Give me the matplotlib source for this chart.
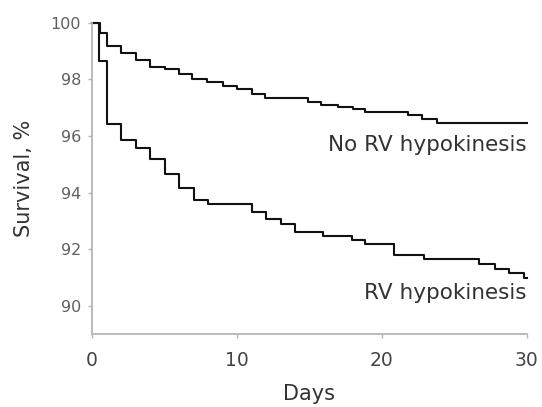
import matplotlib
matplotlib.use("Agg")
import matplotlib.pyplot as plt

# Kaplan-Meier step data (day of step, survival % after step)
no_rv_days = [0, 0.55, 1.0, 2.0, 3.0, 4.0, 5.0, 6.0, 6.9, 7.9, 9.0, 10.0, 11.0, 11.9,
              14.9, 15.8, 16.95, 18.0, 18.8, 21.8, 22.8, 23.8, 30]
no_rv_surv = [100, 99.65, 99.17, 98.94, 98.70, 98.45, 98.35, 98.20, 98.00, 97.90, 97.78,
              97.67, 97.50, 97.33, 97.19, 97.08, 97.02, 96.94, 96.86, 96.76, 96.61,
              96.47, 96.47]

rv_days = [0, 0.5, 1.0, 2.0, 3.0, 4.0, 5.0, 6.0, 7.0, 8.0, 11.0, 12.0, 13.0, 14.0,
           15.9, 17.9, 18.8, 20.8, 22.9, 26.7, 27.8, 28.8, 29.8, 30]
rv_surv = [100, 98.64, 96.41, 95.85, 95.59, 95.18, 94.65, 94.16, 93.73, 93.61, 93.33,
           93.06, 92.90, 92.61, 92.45, 92.31, 92.17, 91.81, 91.66, 91.48, 91.31, 91.17,
           91.00, 91.00]

x_ticks = [0, 10, 20, 30]
y_ticks = [90, 92, 94, 96, 98, 100]
labels = ["No RV hypokinesis", "RV hypokinesis"]

fig = plt.figure(figsize=(5.42, 4.07), dpi=100)
ax = fig.add_axes([0.170, 0.179, 0.802, 0.765])

ax.step(no_rv_days, no_rv_surv, where="post", color="#111111", lw=1.5, clip_on=False)
ax.step(rv_days, rv_surv, where="post", color="#111111", lw=1.5, clip_on=False)

ax.set_xlim(0, 30)
ax.set_ylim(89, 100)
ax.set_xticks(x_ticks)
ax.set_yticks(y_ticks)

for s in ["top", "right"]:
    ax.spines[s].set_visible(False)
for s in ["left", "bottom"]:
    ax.spines[s].set_color("#b5b5b5")
    ax.spines[s].set_linewidth(1.3)

ax.tick_params(axis="y", colors="#b5b5b5", length=3, width=1, labelsize=11.5,
               labelcolor="#606060", pad=5)
ax.tick_params(axis="x", colors="#b5b5b5", length=3, width=1, labelsize=13.5,
               labelcolor="#444444", pad=9)

ax.set_xlabel("Days", fontsize=15, color="#333333", labelpad=10)
ax.set_ylabel("Survival, %", fontsize=15, color="#333333", labelpad=12)

ax.text(30, 96.05, labels[0], ha="right", va="top", fontsize=15.5, color="#333333")
ax.text(30, 90.82, labels[1], ha="right", va="top", fontsize=15.5, color="#333333")

fig.savefig("out.png", dpi=100)
